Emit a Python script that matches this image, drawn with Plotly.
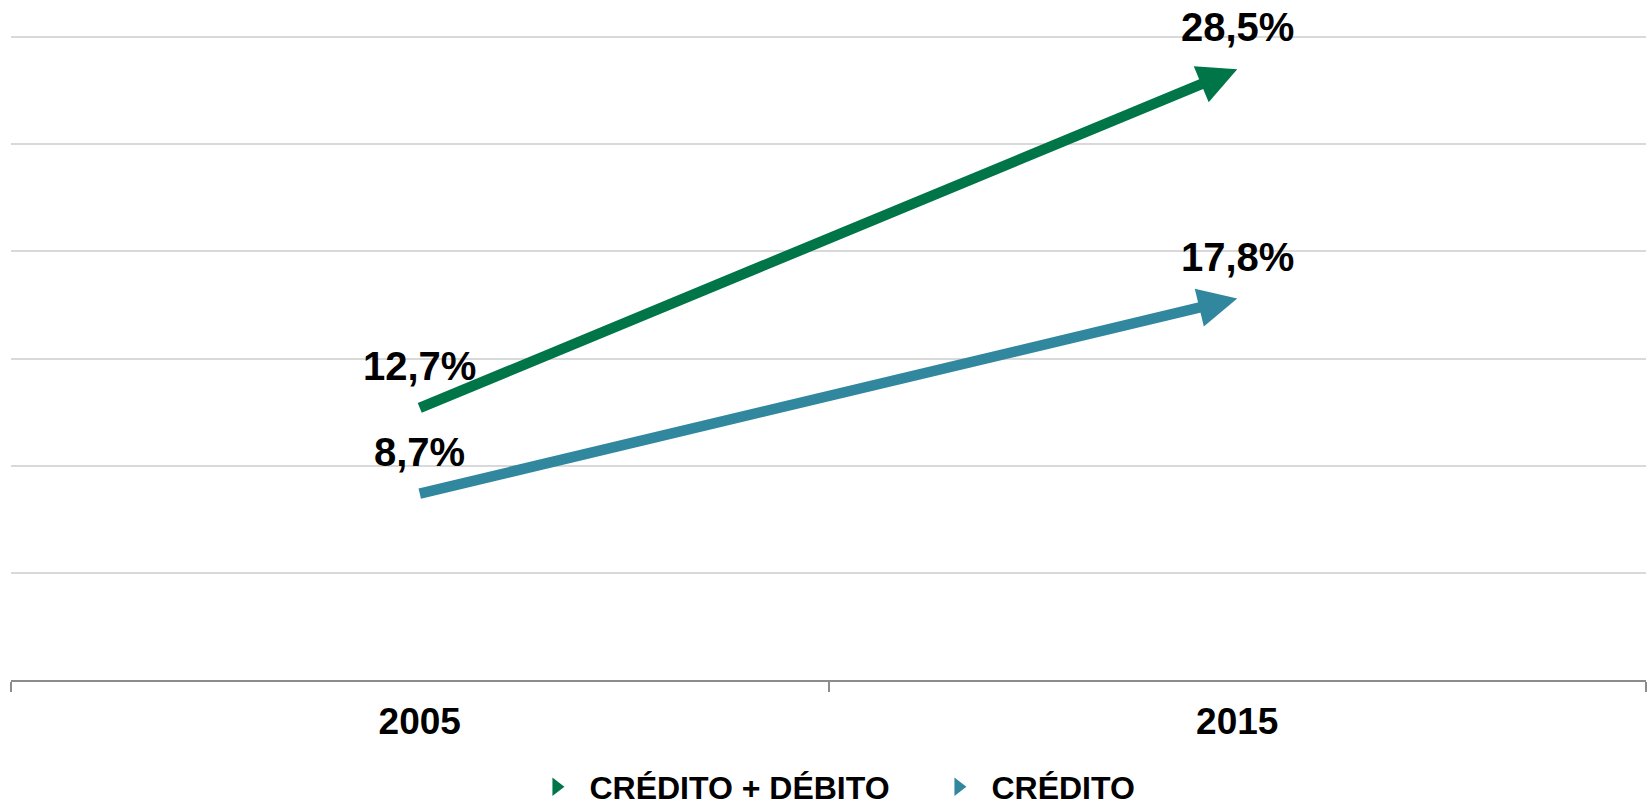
import plotly.graph_objects as go

categories = ["2005", "2015"]
series_names = ["CRÉDITO + DÉBITO", "CRÉDITO"]
credito_debito = [12.7, 28.5]
credito = [8.7, 17.8]
labels_cd = ["12,7%", "28,5%"]
labels_c = ["8,7%", "17,8%"]

colors = ["#007548", "#31889E"]
FONT = "Liberation Sans, Arial, sans-serif"

fig = go.Figure()

for name, vals, labels, col in [
    (series_names[0], credito_debito, labels_cd, colors[0]),
    (series_names[1], credito, labels_c, colors[1]),
]:
    fig.add_trace(go.Scatter(
        x=categories, y=vals, mode="lines+markers",
        line=dict(color=col, width=10.5, backoff=20),
        marker=dict(symbol=["circle", "arrow-up"], size=[10.5, 39], color=col,
                    opacity=1, angleref="previous", line=dict(width=0)),
        showlegend=False, hoverinfo="skip",
    ))
    # legend-only entry
    fig.add_trace(go.Scatter(
        x=[None], y=[None], mode="markers", name=name,
        marker=dict(symbol="triangle-right", size=16, color=col, opacity=1),
    ))
    for i, (v, t) in enumerate(zip(vals, labels)):
        fig.add_annotation(
            x=i, y=v, text=t, showarrow=False, yanchor="middle", xanchor="center",
            yshift=42, font=dict(family=FONT, size=40, color="black", weight="bold"),
        )

fig.update_layout(
    width=1649, height=806,
    margin=dict(l=10.5, r=3, t=34.6, b=126, autoexpand=False),
    paper_bgcolor="white", plot_bgcolor="white",
    showlegend=True,
    legend=dict(orientation="h", x=0.3134, xanchor="left",
                yref="container", y=0.0236, yanchor="middle",
                font=dict(family=FONT, size=32, color="black", weight="bold"),
                itemwidth=56, entrywidth=331, traceorder="normal"),
    xaxis=dict(type="category", range=[-0.5, 1.5], showgrid=False,
               showline=True, linecolor="#8c8c8c", linewidth=1.5,
               ticks="outside", tickson="boundaries", ticklen=10, tickcolor="#8c8c8c",
               tickwidth=1.5,
               tickfont=dict(family=FONT, size=37, color="black", weight="bold"),
               ticklabelstandoff=8),
    yaxis=dict(range=[0, 30.1], dtick=5, showticklabels=False, showgrid=True,
               gridcolor="#d9d9d9", gridwidth=1.5, zeroline=False, showline=False),
)

fig.write_html("out.html", config={"displayModeBar": False},
               post_script="document.body.style.margin='0';document.body.style.overflow='hidden';")
